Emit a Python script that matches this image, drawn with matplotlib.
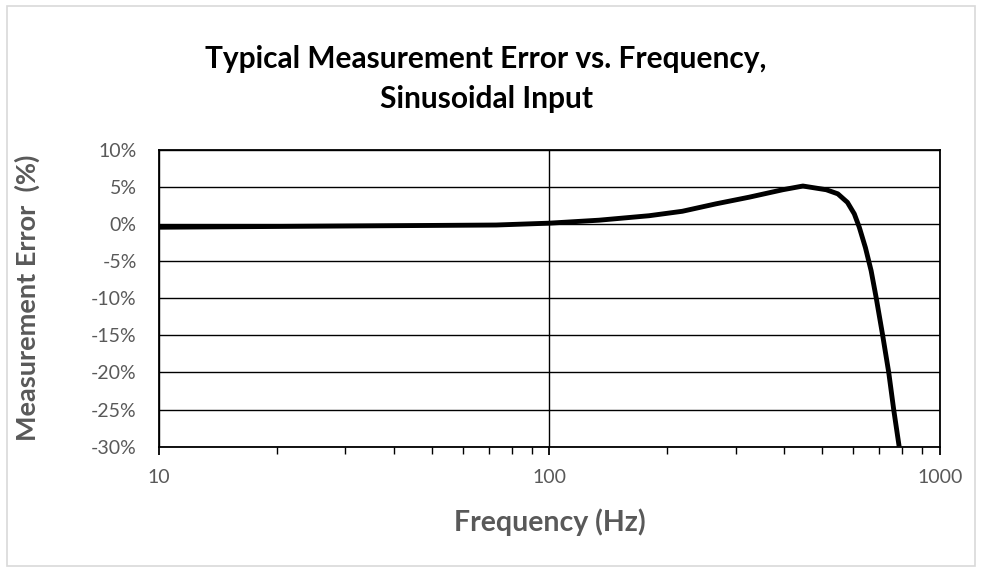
import matplotlib.pyplot as plt
from matplotlib.patches import Rectangle
from matplotlib.ticker import FixedLocator, LogLocator, NullFormatter, FuncFormatter

# ================================================================
# Data
# ================================================================
freq_hz = [10, 27, 73, 100, 134, 180, 219, 267, 325, 396, 446, 512, 548,
           580, 604, 622, 645, 667, 687, 714, 740, 762, 787]
error_pct = [-0.45, -0.3, -0.15, 0.1, 0.5, 1.1, 1.7, 2.7, 3.6, 4.6, 5.1, 4.6, 4.05,
             2.9, 1.35, -0.45, -3.2, -6.3, -9.9, -15.0, -20.0, -25.0, -30.0]

y_ticks = [10, 5, 0, -5, -10, -15, -20, -25, -30]
x_ticks = [10, 100, 1000]

GRAY = "#595959"
FONT = "Lato"

# ================================================================
# Figure
# ================================================================
fig = plt.figure(figsize=(9.82, 5.69), dpi=100)
ax = fig.add_axes([0.162, 0.215, 0.795, 0.522])

# light border around the chart area
fig.patches.append(Rectangle((0.007, 0.005), 0.986, 0.985, transform=fig.transFigure,
                             fill=False, edgecolor="#d9d9d9", linewidth=1.2))

ax.plot(freq_hz, error_pct, color="black", linewidth=3.5,
        solid_joinstyle="round", solid_capstyle="butt")

ax.set_xscale("log")
ax.set_xlim(10, 1000)
ax.set_ylim(-30, 10)

ax.xaxis.set_major_locator(FixedLocator(x_ticks))
ax.xaxis.set_minor_locator(LogLocator(base=10, subs=range(2, 10)))
ax.xaxis.set_major_formatter(FuncFormatter(lambda v, p: f"{v:.0f}"))
ax.xaxis.set_minor_formatter(NullFormatter())
ax.yaxis.set_major_locator(FixedLocator(y_ticks))
ax.yaxis.set_major_formatter(FuncFormatter(lambda v, p: f"{v:.0f}%"))

ax.grid(True, which="major", color="black", linewidth=1.0)
ax.set_axisbelow(True)
for s in ax.spines.values():
    s.set_color("black")
    s.set_linewidth(1.3)

ax.tick_params(axis="x", which="major", direction="out", length=6, width=1.3,
               color="black", labelcolor=GRAY, labelsize=14, pad=10)
ax.tick_params(axis="x", which="minor", direction="out", length=5, width=1.0, color="black")
ax.tick_params(axis="y", length=0, labelcolor=GRAY, labelsize=14, pad=16)
for lab in ax.get_xticklabels() + ax.get_yticklabels():
    lab.set_fontfamily(FONT)

ax.set_xlabel("Frequency (Hz)", fontsize=20.5, fontweight="bold", color=GRAY,
              fontfamily=FONT)
ax.xaxis.label.set_va("center")
ax.xaxis.set_label_coords(0.5, (446.7 - 522) / 297.2)

ax.set_ylabel("Measurement Error  (%)", fontsize=19.5, fontweight="bold", color=GRAY,
              fontfamily=FONT)
ax.yaxis.label.set_va("center")
ax.yaxis.set_label_coords((27 - 159) / 781, 0.5)

fig.text(0.495, 0.861, "Typical Measurement Error vs. Frequency,\nSinusoidal Input",
         ha="center", va="center", fontsize=21.5, fontweight="bold", color="black",
         fontfamily=FONT, linespacing=1.5)

fig.savefig("out.png", dpi=100)
